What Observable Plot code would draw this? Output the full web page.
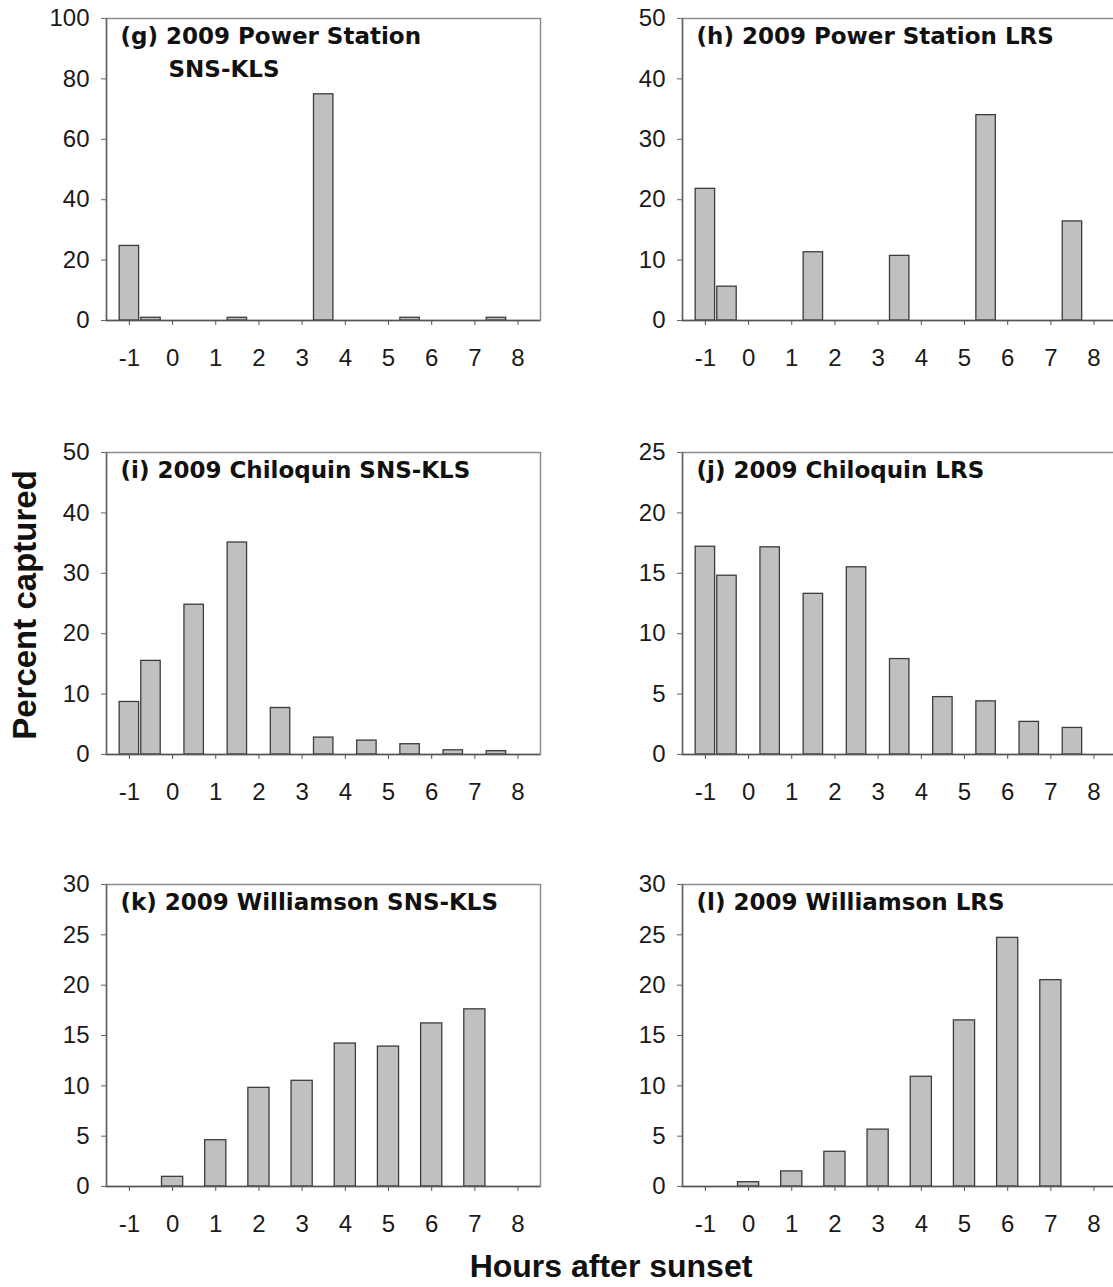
<!DOCTYPE html>
<html>
<head>
<meta charset="utf-8">
<script src="https://cdn.jsdelivr.net/npm/d3@7"></script>
<script src="https://cdn.jsdelivr.net/npm/@observablehq/plot@0.6"></script>
<style>
  html, body { margin: 0; padding: 0; background: #fff; }
  #fig { position: relative; width: 1113px; height: 1287px; overflow: hidden; background: #fff;
         font-family: "Liberation Sans", Arial, sans-serif; color: #1a1a1a; }
  .panel { position: absolute; }
  .axtitle { position: absolute; white-space: nowrap; font-weight: bold; color: #111;
             font-family: "Liberation Sans", Arial, sans-serif; }
</style>
</head>
<body>
<div id="fig"></div>
<script>
// ---------- data ----------
const xTicks = [-1, 0, 1, 2, 3, 4, 5, 6, 7, 8];

const hoursG = [-1, -0.5, 1.5, 3.5, 5.5, 7.5];
const pctG   = [24.7, 0.9, 0.9, 74.9, 0.9, 0.9];
const yTicksG = [0, 20, 40, 60, 80, 100];

const hoursH = [-1, -0.5, 1.5, 3.5, 5.5, 7.5];
const pctH   = [21.8, 5.6, 11.3, 10.7, 34.0, 16.4];
const yTicksH = [0, 10, 20, 30, 40, 50];

const hoursI = [-1, -0.5, 0.5, 1.5, 2.5, 3.5, 4.5, 5.5, 6.5, 7.5];
const pctI   = [8.7, 15.5, 24.8, 35.1, 7.7, 2.8, 2.3, 1.7, 0.7, 0.55];
const yTicksI = [0, 10, 20, 30, 40, 50];

const hoursJ = [-1, -0.5, 0.5, 1.5, 2.5, 3.5, 4.5, 5.5, 6.5, 7.5];
const pctJ   = [17.2, 14.8, 17.15, 13.3, 15.5, 7.9, 4.75, 4.4, 2.7, 2.2];
const yTicksJ = [0, 5, 10, 15, 20, 25];

const hoursK = [0, 1, 2, 3, 4, 5, 6, 7];
const pctK   = [0.96, 4.6, 9.8, 10.5, 14.2, 13.9, 16.2, 17.6];
const yTicksK = [0, 5, 10, 15, 20, 25, 30];

const hoursL = [0, 1, 2, 3, 4, 5, 6, 7];
const pctL   = [0.43, 1.5, 3.45, 5.65, 10.9, 16.5, 24.7, 20.5];
const yTicksL = [0, 5, 10, 15, 20, 25, 30];

const titleG = ["(g) 2009 Power Station", "SNS-KLS"];
const titleH = ["(h) 2009 Power Station LRS"];
const titleI = ["(i) 2009 Chiloquin SNS-KLS"];
const titleJ = ["(j) 2009 Chiloquin LRS"];
const titleK = ["(k) 2009 Williamson SNS-KLS"];
const titleL = ["(l) 2009 Williamson LRS"];

const yLabel = "Percent captured";
const xLabel = "Hours after sunset";

// ---------- layout ----------
const panels = [
  {hours: hoursG, pct: pctG, yTicks: yTicksG, title: titleG, col: 0, row: 0, barW: 0.45},
  {hours: hoursH, pct: pctH, yTicks: yTicksH, title: titleH, col: 1, row: 0, barW: 0.45},
  {hours: hoursI, pct: pctI, yTicks: yTicksI, title: titleI, col: 0, row: 1, barW: 0.45},
  {hours: hoursJ, pct: pctJ, yTicks: yTicksJ, title: titleJ, col: 1, row: 1, barW: 0.45},
  {hours: hoursK, pct: pctK, yTicks: yTicksK, title: titleK, col: 0, row: 2, barW: 0.49},
  {hours: hoursL, pct: pctL, yTicks: yTicksL, title: titleL, col: 1, row: 2, barW: 0.49}
];

const xDomain = [-1.53, 8.52];
const colLeft = [0, 560];
const colMarginLeft = [106, 122];
const colMarginRight = [20, 4];
const rowTop = [0, 434, 866];
const mTop = 18, plotH = 302, mBottom = 62;
const svgW = 560;

const fig = document.getElementById("fig");

for (const p of panels) {
  const data = p.hours.map((h, i) => ({h, v: p.pct[i]}));
  const yMax = p.yTicks[p.yTicks.length - 1];
  const hw = p.barW / 2;
  const marks = [
    Plot.frame({stroke: "#8c8c8c", strokeWidth: 1.5}),
    Plot.rectY(data, {
      x1: d => d.h - hw, x2: d => d.h + hw, y: "v",
      fill: "#c0c0c0", stroke: "#3c3c3c", strokeWidth: 1.3
    }),
    Plot.ruleX([xDomain[0]], {stroke: "#666", strokeWidth: 1.5}),
    Plot.ruleY([0], {stroke: "#555", strokeWidth: 1.5}),
    Plot.axisY({
      ticks: p.yTicks, tickSize: 5, tickPadding: 12, tickFormat: d => String(d),
      fontSize: 24, label: null, stroke: "#666", fill: "#1a1a1a"
    }),
    Plot.axisX({
      ticks: xTicks, tickSize: 5, tickPadding: 23, tickFormat: d => String(d),
      fontSize: 24, label: null, stroke: "#555", fill: "#1a1a1a"
    }),
    Plot.text([p.title[0]], {
      frameAnchor: "top-left", textAnchor: "start", lineAnchor: "top",
      dx: 14, dy: 9, fontSize: 23, fontWeight: "bold",
      fontFamily: "DejaVu Sans", fill: "#111"
    })
  ];
  if (p.title.length > 1) {
    marks.push(Plot.text([p.title[1]], {
      frameAnchor: "top-left", textAnchor: "start", lineAnchor: "top",
      dx: 62, dy: 42, fontSize: 23, fontWeight: "bold",
      fontFamily: "DejaVu Sans", fill: "#111"
    }));
  }
  const chart = Plot.plot({
    width: svgW,
    height: mTop + plotH + mBottom,
    marginTop: mTop,
    marginBottom: mBottom,
    marginLeft: colMarginLeft[p.col],
    marginRight: colMarginRight[p.col],
    x: {domain: xDomain},
    y: {domain: [0, yMax]},
    style: {background: "transparent", fontFamily: "'Liberation Sans', Arial, sans-serif", color: "#1a1a1a", overflow: "visible"},
    marks
  });
  chart.classList.add("panel");
  chart.style.left = colLeft[p.col] + "px";
  chart.style.top = rowTop[p.row] + "px";
  fig.appendChild(chart);
}

// axis titles
const yt = document.createElement("div");
yt.className = "axtitle";
yt.textContent = yLabel;
yt.style.fontSize = "33px";
yt.style.left = "25px";
yt.style.top = "605px";
yt.style.transform = "translate(-50%, -50%) rotate(-90deg)";
fig.appendChild(yt);

const xt = document.createElement("div");
xt.className = "axtitle";
xt.textContent = xLabel;
xt.style.fontSize = "32px";
xt.style.left = "611px";
xt.style.top = "1266px";
xt.style.transform = "translate(-50%, -50%)";
fig.appendChild(xt);
</script>
</body>
</html>
